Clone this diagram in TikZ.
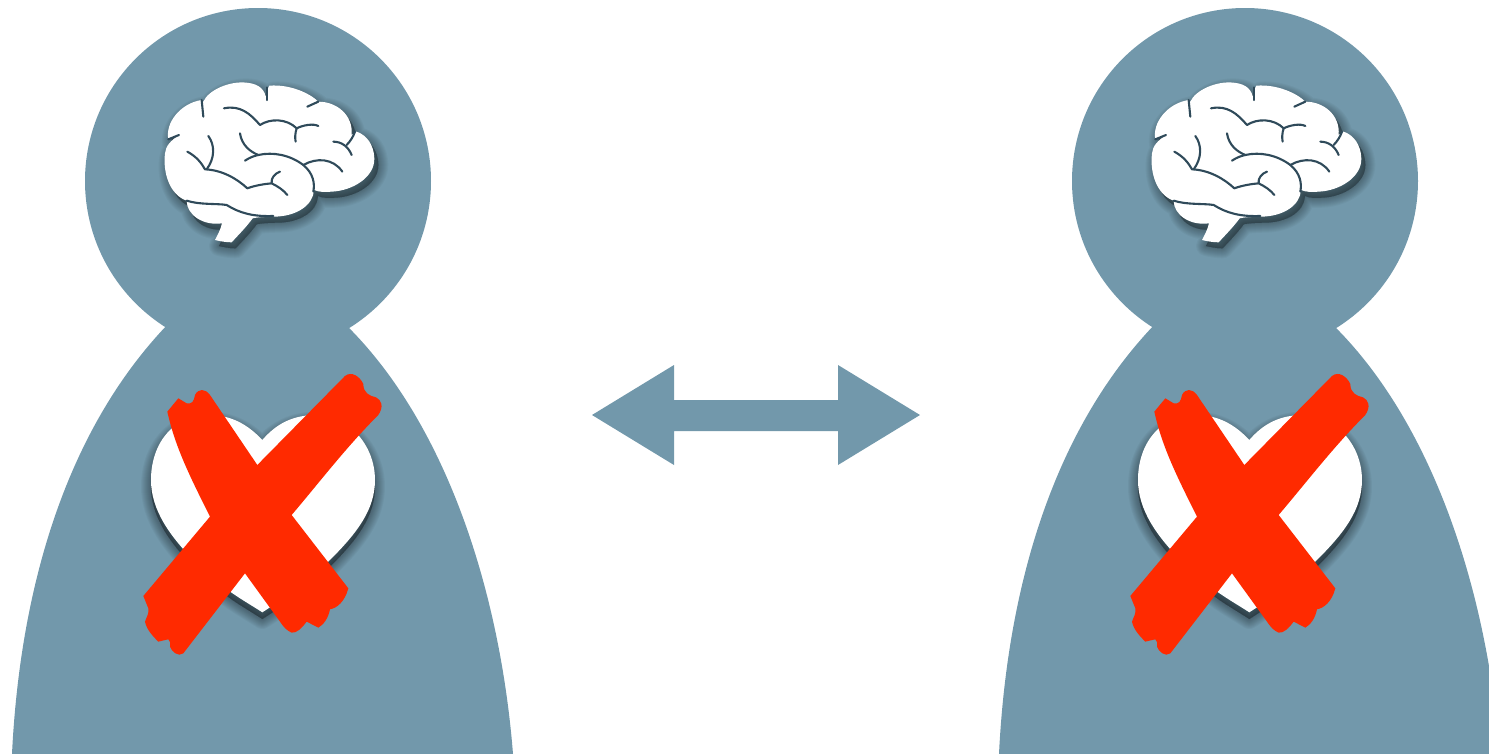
\documentclass[tikz,border=0pt]{standalone}
\begin{document}
\begin{tikzpicture}[x=0.02cm,y=-0.02cm,
  figure/.style={fill=bluegrey,draw=none},
  sulcus/.style={draw=sulcuscol,line width=0.042cm,line cap=round,line join=round,fill=none},
  cross/.style={fill=crossred,draw=none}]
\definecolor{bluegrey}{HTML}{7298AB}
\definecolor{crossred}{HTML}{FF2A00}
\definecolor{sulcuscol}{HTML}{2F4A5A}
\def\brainpath{(160,95) .. controls (175,60) and (240,32) .. (290,38) .. controls (330,42) and (345,60) .. (350,90) .. controls (352,70) and (352,55) .. (358,47) .. controls (420,42) and (480,70) .. (505,95) .. controls (560,95) and (610,135) .. (605,195) .. controls (612,190) and (616,186) .. (620,185) .. controls (650,195) and (672,225) .. (673,265) .. controls (675,320) and (610,362) .. (545,365) .. controls (525,367) and (505,366) .. (492,360) .. controls (490,405) and (440,440) .. (370,440) .. controls (345,441) and (325,441) .. (308,445) .. controls (290,470) and (265,495) .. (245,517) .. controls (230,517) and (210,514) .. (195,510) .. controls (203,495) and (212,478) .. (216,460) .. controls (160,468) and (110,435) .. (110,392) .. controls (60,375) and (38,310) .. (45,250) .. controls (47,228) and (62,212) .. (87,195) .. controls (75,198) and (65,203) .. (55,208) .. controls (45,160) and (90,100) .. (155,90) -- cycle}
\def\heartpath{(397,240) .. controls (350,190) and (300,165) .. (235,165) .. controls (130,165) and (63,250) .. (63,360) .. controls (63,450) and (120,530) .. (200,610) .. controls (280,690) and (340,720) .. (397,757) .. controls (455,720) and (530,670) .. (600,600) .. controls (680,520) and (735,450) .. (735,360) .. controls (735,250) and (650,165) .. (560,165) .. controls (490,165) and (440,190) .. (397,240) -- cycle}
\def\softshadow#1#2#3{%
  \begin{scope}[shift={(#2)}]
  \foreach \w in {20,18,16,14,12,10,8,6,4,2,0.5}{\path[fill=black,draw=black,fill opacity=#3,draw opacity=#3,line width=\w*0.02cm,line join=round] #1;}
  \end{scope}}
\def\person#1{%
\begin{scope}[shift={(#1,0)}]
  \fill[figure] (258,181) circle (173);
  \fill[figure] (170,322) .. controls (65,430) and (20,590) .. (12,754) -- (513,754) .. controls (500,590) and (445,420) .. (343,322) -- cycle;
  \begin{scope}[shift={(150,70)},scale=0.3333]
    \softshadow{\brainpath}{12,18}{0.03}
    \fill[white] \brainpath;
    \draw[sulcus] (222,115) .. controls (270,105) and (300,130) .. (330,165) .. controls (360,145) and (410,145) .. (440,175) .. controls (460,165) and (490,160) .. (505,168);
    \draw[sulcus] (440,175) .. controls (435,190) and (435,205) .. (437,215);
    \draw[sulcus] (270,190) .. controls (275,225) and (300,245) .. (325,255) .. controls (370,245) and (420,255) .. (460,285) .. controls (490,310) and (495,340) .. (490,365);
    \draw[sulcus] (285,272) .. controls (300,262) and (312,258) .. (325,255);
    \draw[sulcus] (460,285) .. controls (500,262) and (550,265) .. (577,305);
    \draw[sulcus] (112,245) .. controls (140,260) and (155,280) .. (165,298) .. controls (215,300) and (260,325) .. (292,355) .. controls (320,345) and (345,342) .. (365,340) .. controls (385,350) and (400,360) .. (412,375);
    \draw[sulcus] (365,340) .. controls (362,325) and (375,310) .. (390,305);
    \draw[sulcus] (175,198) .. controls (195,225) and (195,265) .. (170,298);
    \draw[sulcus] (110,392) .. controls (150,405) and (200,400) .. (230,405) .. controls (270,430) and (310,440) .. (370,438);
    \draw[sulcus] (550,215) .. controls (575,215) and (595,230) .. (605,255);
    \draw[sulcus] (590,225) .. controls (600,215) and (610,200) .. (615,185);
    \draw[sulcus] (155,90) -- (160,140);
    \draw[sulcus] (350,52) -- (350,90);
    \draw[sulcus] (505,95) -- (472,110);
    \draw[sulcus] (87,195) -- (55,208);
  \end{scope}
  \begin{scope}[shift={(130,360)},scale=0.3333]
    \softshadow{\heartpath}{0,20}{0.035}
    \fill[white] \heartpath;
    \fill[cross] (112,155) -- (145,115) -- (170,130) .. controls (185,133) and (192,125) .. (195,105) .. controls (205,85) and (225,85) .. (240,105) -- (382,315) -- (645,48) .. controls (665,32) and (690,50) .. (700,72) .. controls (700,100) and (720,108) .. (738,112) .. controls (755,120) and (762,140) .. (745,165) .. controls (650,260) and (570,365) .. (485,465) -- (655,685) .. controls (645,725) and (620,745) .. (600,748) .. controls (595,775) and (580,795) .. (565,803) -- (530,785) .. controls (515,805) and (500,820) .. (485,818) .. controls (470,812) and (460,800) .. (450,785) -- (345,640) -- (160,880) .. controls (145,892) and (125,875) .. (120,860) .. controls (122,850) and (120,842) .. (115,838) -- (85,845) .. controls (70,830) and (50,810) .. (45,785) .. controls (50,770) and (58,760) .. (55,745) -- (40,708) -- (240,470) .. controls (180,350) and (135,260) .. (112,155) -- cycle;
  \end{scope}
\end{scope}}
\path[use as bounding box] (0,0) rectangle (1489,754);
\clip (0,0) rectangle (1489,754);
\person{0}
\person{987}
\fill[figure] (592,415) -- (674,365) -- (674,400) -- (838,400) -- (838,365) -- (920,415) -- (838,465) -- (838,431) -- (674,431) -- (674,465) -- cycle;
\end{tikzpicture}
\end{document}
